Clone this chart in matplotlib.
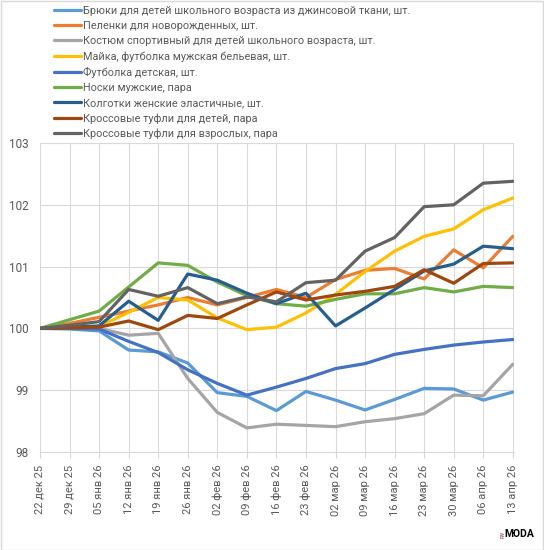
import matplotlib
matplotlib.use("Agg")
import matplotlib.pyplot as plt
from matplotlib.patches import Rectangle

plt.rcParams['font.family'] = ['Roboto', 'DejaVu Sans']

dates = ["22 дек 25", "29 дек 25", "05 янв 26", "12 янв 26", "19 янв 26", "26 янв 26",
         "02 фев 26", "09 фев 26", "16 фев 26", "23 фев 26", "02 мар 26", "09 мар 26",
         "16 мар 26", "23 мар 26", "30 мар 26", "06 апр 26", "13 апр 26"]

names = [
    "Брюки для детей школьного возраста из джинсовой ткани, шт.",
    "Пеленки для новорожденных, шт.",
    "Костюм спортивный для детей школьного возраста, шт.",
    "Майка, футболка мужская бельевая, шт.",
    "Футболка детская, шт.",
    "Носки мужские, пара",
    "Колготки женские эластичные, шт.",
    "Кроссовые туфли для детей, пара",
    "Кроссовые туфли для взрослых, пара",
]

bryuki = [100, 99.99, 99.96, 99.65, 99.62, 99.44, 98.96, 98.90, 98.67, 98.98, 98.84, 98.68,
          98.85, 99.03, 99.02, 98.84, 98.97]
pelenki = [100, 100.08, 100.18, 100.28, 100.38, 100.50, 100.38, 100.50, 100.63, 100.50, 100.79,
           100.94, 100.97, 100.80, 101.27, 100.98, 101.49]
kostyum = [100, 100.0, 100.0, 99.89, 99.92, 99.19, 98.64, 98.39, 98.45, 98.43, 98.41, 98.49,
           98.54, 98.62, 98.92, 98.91, 99.42]
mayka = [100, 100.01, 100.03, 100.26, 100.50, 100.46, 100.17, 99.98, 100.02, 100.25, 100.55,
         100.92, 101.25, 101.49, 101.61, 101.92, 102.11]
futbolka = [100, 100.0, 99.99, 99.79, 99.61, 99.33, 99.11, 98.92, 99.05, 99.19, 99.35, 99.43,
            99.58, 99.66, 99.73, 99.78, 99.82]
noski = [100, 100.14, 100.28, 100.67, 101.06, 101.02, 100.75, 100.53, 100.40, 100.36, 100.47,
         100.56, 100.56, 100.66, 100.59, 100.68, 100.66]
kolgotki = [100, 100.02, 100.04, 100.44, 100.13, 100.88, 100.78, 100.57, 100.40, 100.57, 100.04,
            100.33, 100.63, 100.93, 101.04, 101.33, 101.29]
kross_det = [100, 100.01, 100.02, 100.12, 99.98, 100.21, 100.16, 100.38, 100.59, 100.46, 100.54,
             100.60, 100.68, 100.95, 100.73, 101.05, 101.06]
kross_vzr = [100, 100.05, 100.11, 100.63, 100.52, 100.66, 100.40, 100.51, 100.43, 100.74, 100.78,
             101.25, 101.47, 101.97, 102.00, 102.35, 102.38]

series = [bryuki, pelenki, kostyum, mayka, futbolka, noski, kolgotki, kross_det, kross_vzr]
colors = ["#5B9BD5", "#ED7D31", "#A5A5A5", "#FFC000", "#4472C4", "#70AD47", "#255E91",
          "#9E480E", "#636363"]

fig = plt.figure(figsize=(5.44, 5.5), dpi=100)
ax = fig.add_axes([40 / 544, 1 - 452 / 550, (514 - 40) / 544, (452 - 143) / 550])

x = list(range(len(dates)))
handles = []
for s, c, n in zip(series, colors, names):
    h, = ax.plot(x, s, color=c, lw=2.3, label=n, solid_joinstyle='round', solid_capstyle='round')
    handles.append(h)

ax.set_xlim(0, len(dates) - 1 + 0.04)
ax.set_ylim(98, 103)
ax.set_yticks([98, 99, 100, 101, 102, 103])
ax.set_xticks(x)
ax.set_xticklabels(dates, rotation=90, fontsize=8, color="#595959")
ax.tick_params(axis='y', length=0, labelsize=8.5, labelcolor="#595959", pad=8)
ax.tick_params(axis='x', length=4, color="#D9D9D9", width=0.8, pad=5)
ax.grid(True, color="#D9D9D9", lw=0.8)
ax.set_axisbelow(True)
for sp in ['left', 'right', 'top']:
    ax.spines[sp].set_visible(False)
ax.spines['bottom'].set_color("#D9D9D9")
ax.spines['bottom'].set_linewidth(0.8)

leg = fig.legend(handles=handles, loc='upper left', bbox_to_anchor=(54 / 544, 1 - 6 / 550),
                 frameon=False, fontsize=7.8, labelcolor="#595959", handlelength=2.5,
                 handletextpad=0.2, labelspacing=0.47, borderaxespad=0, borderpad=0)

fig.text(534 / 544, 1 - 534 / 550, "MODA", fontsize=7.5, fontweight='bold', color="black",
         ha='right', va='center')
fig.text(503 / 544, 1 - 534 / 550, "FW", fontsize=3.5, color="#7a2a3a", rotation=90,
         ha='center', va='center')

fig.patches.append(Rectangle((0.5 / 544, 0.5 / 550), 542.5 / 544, 548.5 / 550,
                             transform=fig.transFigure, fill=False, edgecolor="#D9D9D9", lw=1))

fig.savefig("out.png", dpi=100)
